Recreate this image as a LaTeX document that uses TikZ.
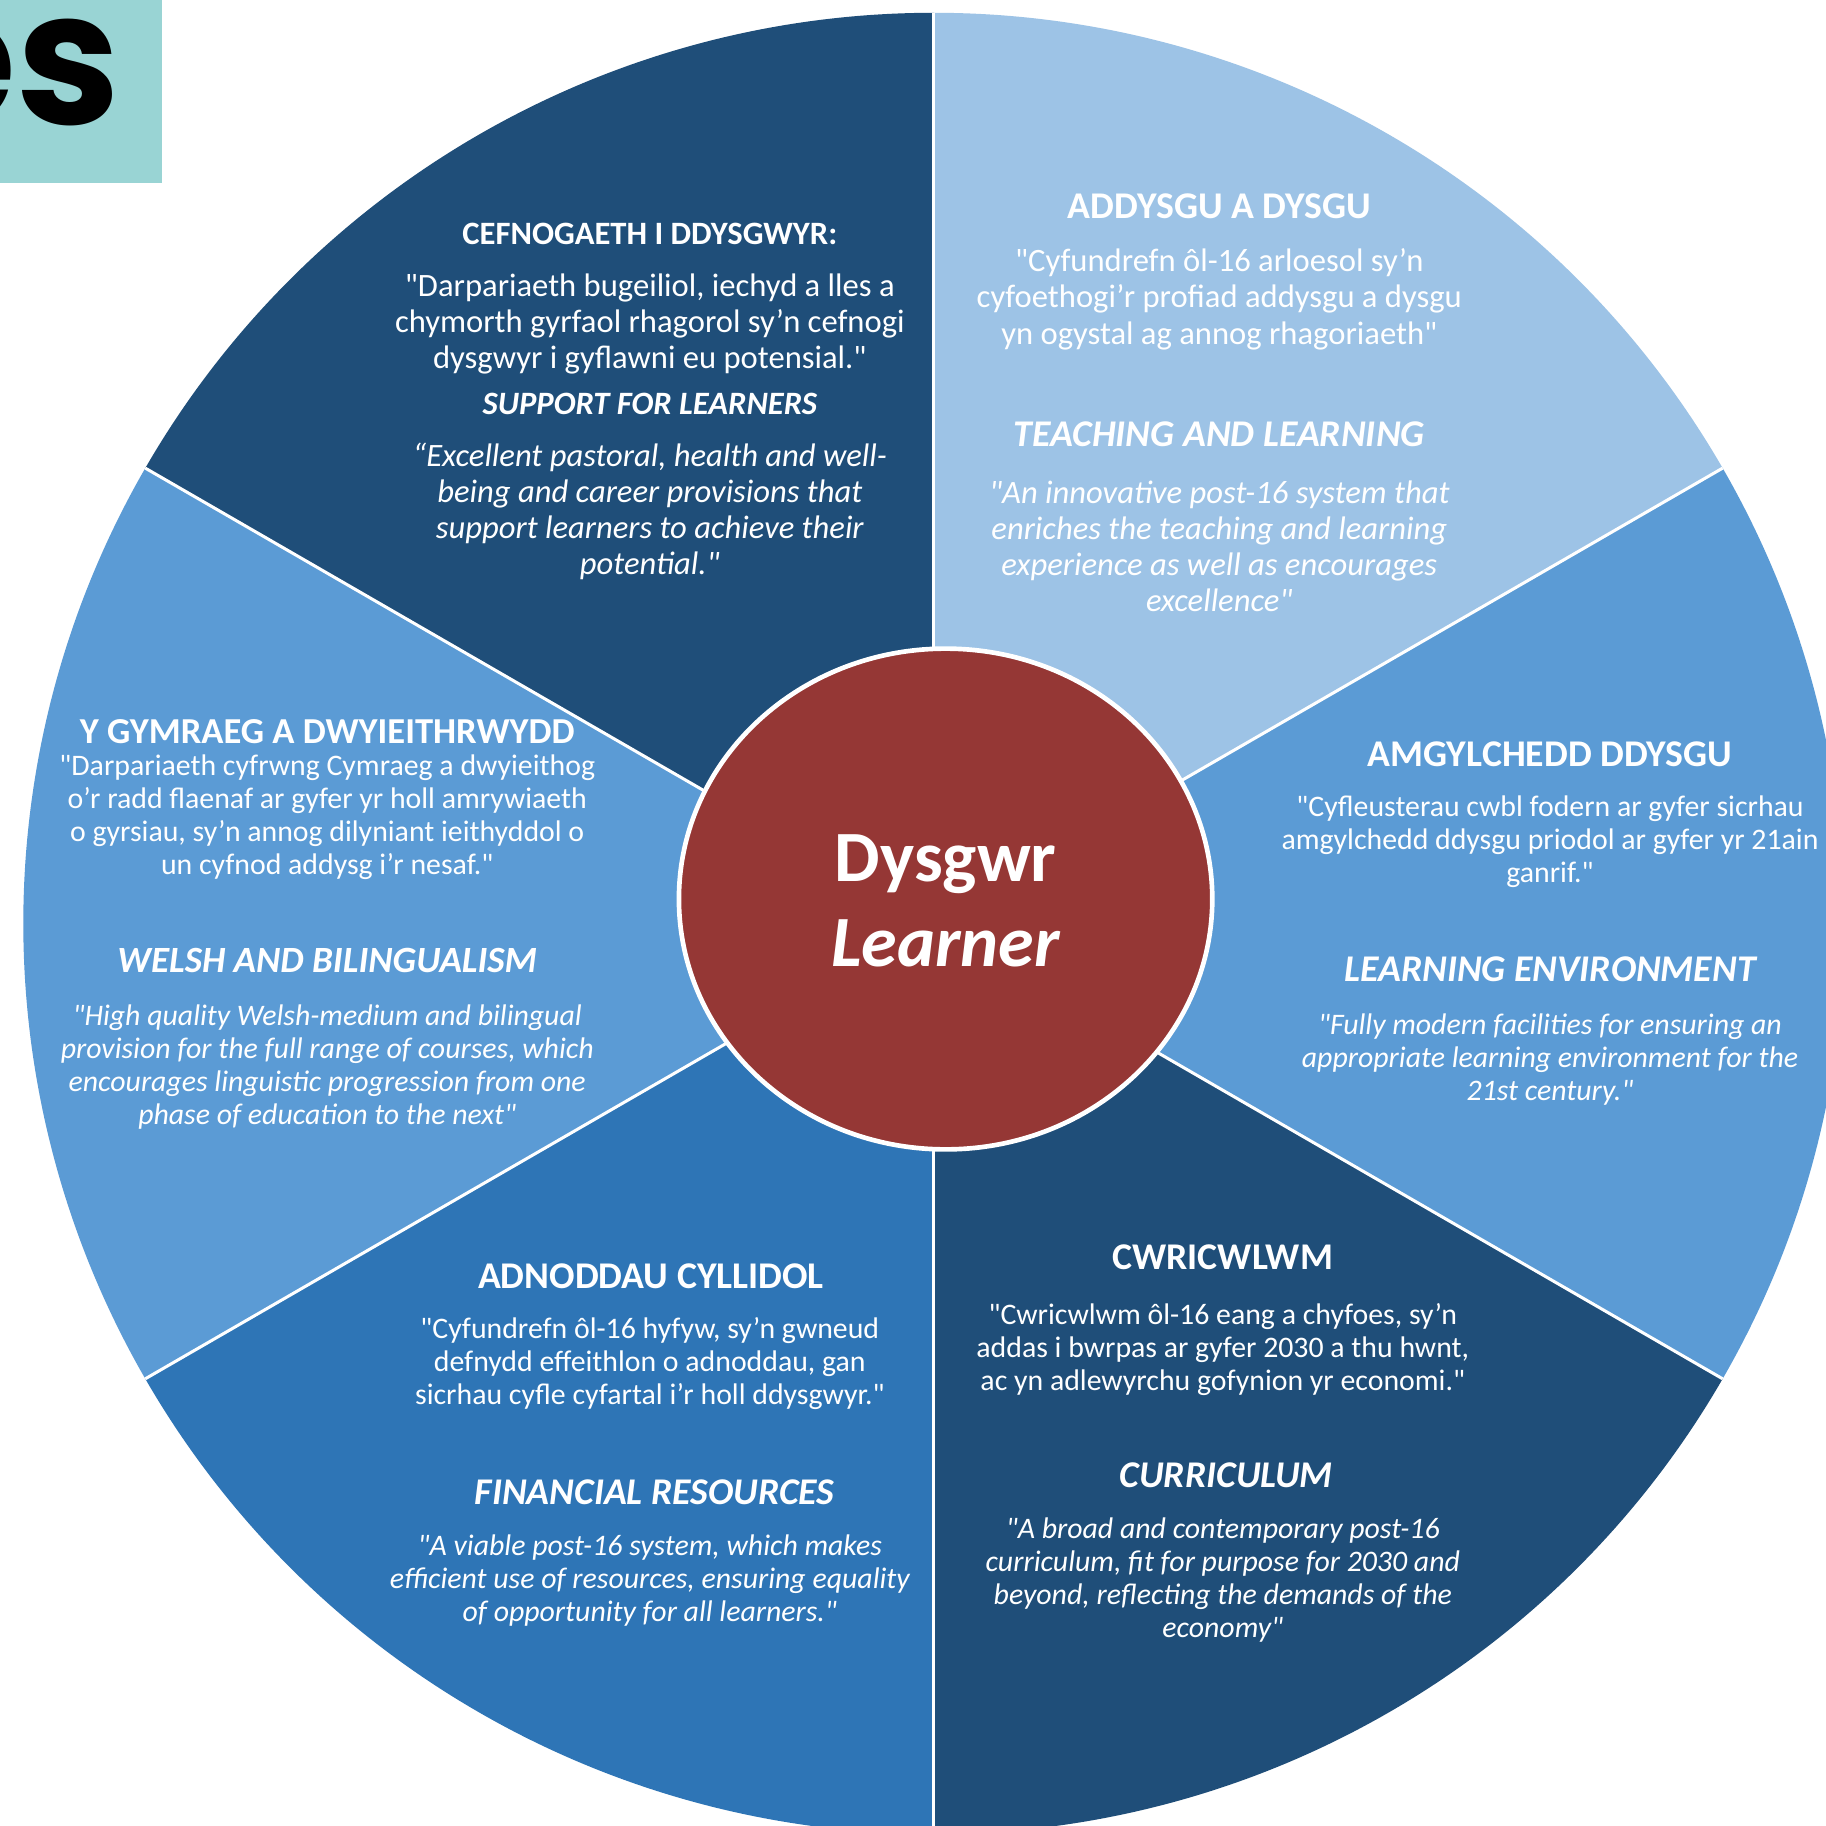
\documentclass[tikz,border=0pt]{standalone}
\usepackage{fontspec}
\setmainfont{Carlito}
\newfontfamily\calib{Carlito}
\newfontfamily\popfont{Poppins}
\usetikzlibrary{shapes.geometric}
\definecolor{navy}{HTML}{1F4E79}
\definecolor{lightb}{HTML}{9DC3E6}
\definecolor{midb}{HTML}{5B9BD5}
\definecolor{deepb}{HTML}{2E75B6}
\definecolor{redc}{HTML}{953735}
\definecolor{tealc}{HTML}{99D4D4}
\begin{document}
\begin{tikzpicture}[x=0.5pt,y=0.5pt,
  wh/.style={text=white, align=center, inner sep=0pt},
  hsm/.style={wh, font=\calib\bfseries\fontsize{14}{16}\selectfont},
  hsmi/.style={wh, font=\calib\bfseries\itshape\fontsize{14}{16}\selectfont},
  hbig/.style={wh, font=\calib\bfseries\fontsize{16.2}{18}\selectfont},
  hbigi/.style={wh, font=\calib\bfseries\itshape\fontsize{16.2}{18}\selectfont},
  qbig/.style={wh, font=\calib\fontsize{14}{15.5}\selectfont},
  qbigi/.style={wh, font=\calib\itshape\fontsize{14}{15.4}\selectfont},
  qsm/.style={wh, font=\calib\fontsize{12.8}{14.2}\selectfont},
  qsmi/.style={wh, font=\calib\itshape\fontsize{12.8}{14.2}\selectfont},
  divider/.style={white, line width=1.3pt}]
\useasboundingbox (0,0) rectangle (1568,1568);
\clip (0,0) rectangle (1568,1568);
\fill[white] (0,0) rectangle (1568,1568);
% teal tab
\fill[tealc] (0,1411) rectangle (139,1568);
\node[anchor=base east, inner sep=0pt, font=\popfont\bfseries\fontsize{80}{80}\selectfont, text=black] (tab) at (104,1461) {es};
% pie
\coordinate (O) at (802,775);
\fill[navy]  (O) -- ++(90:391pt)  arc[start angle=90,  end angle=150, radius=391pt] -- cycle;
\fill[lightb](O) -- ++(30:391pt)  arc[start angle=30,  end angle=90,  radius=391pt] -- cycle;
\fill[midb]  (O) -- ++(-30:391pt) arc[start angle=-30, end angle=30,  radius=391pt] -- cycle;
\fill[navy]  (O) -- ++(-90:391pt) arc[start angle=-90, end angle=-30, radius=391pt] -- cycle;
\fill[deepb] (O) -- ++(210:391pt) arc[start angle=210, end angle=270, radius=391pt] -- cycle;
\fill[midb]  (O) -- ++(150:391pt) arc[start angle=150, end angle=210, radius=391pt] -- cycle;
\path (O) ++(30:391pt) coordinate (r30);
\path (O) ++(90:391pt) coordinate (r90);
\path (O) ++(150:391pt) coordinate (r150);
\path (O) ++(210:391pt) coordinate (r210);
\path (O) ++(270:391pt) coordinate (r270);
\path (O) ++(330:391pt) coordinate (r330);
\foreach \r in {r30,r90,r150,r210,r270,r330} \draw[divider] (O) -- (\r);
% hub
\node[ellipse, fill=redc, draw=white, line width=2pt, minimum width=229pt, minimum height=215pt, inner sep=0pt] (hub) at (812,796) {};
\node[wh, font=\calib\bfseries\fontsize{31}{34}\selectfont] (dysgwr) at (812,826) {Dysgwr};
\node[wh, font=\calib\bfseries\itshape\fontsize{31}{34}\selectfont] (learner) at (812,758) {Learner};
% top-left
\node[hsm] (tlh1) at (558,1367) {CEFNOGAETH I DDYSGWYR:};
\node[qbig] (tlq1) at (558,1290) {"Darpariaeth bugeiliol, iechyd a lles a\\chymorth gyrfaol rhagorol sy’n cefnogi\\dysgwyr i gyflawni eu potensial."};
\node[hsmi] (tlh2) at (558,1221) {SUPPORT FOR LEARNERS};
\node[qbigi] (tlq2) at (558,1129) {“Excellent pastoral, health and well-\\being and career provisions that\\support learners to achieve their\\potential."};
% top-right
\node[hbig] (trh1) at (1047,1391) {ADDYSGU A DYSGU};
\node[qbig] (trq1) at (1047,1311) {"Cyfundrefn ôl-16 arloesol sy’n\\cyfoethogi’r profiad addysgu a dysgu\\yn ogystal ag annog rhagoriaeth"};
\node[hbigi] (trh2) at (1047,1195) {TEACHING AND LEARNING};
\node[qbigi] (trq2) at (1047,1099) {"An innovative post-16 system that\\enriches the teaching and learning\\experience as well as encourages\\excellence"};
% right
\node[hbig] (rh1) at (1331,920) {AMGYLCHEDD DDYSGU};
\node[qsm] (rq1) at (1331,845) {"Cyfleusterau cwbl fodern ar gyfer sicrhau\\amgylchedd ddysgu priodol ar gyfer yr 21ain\\ganrif."};
\node[hbigi] (rh2) at (1331,736) {LEARNING ENVIRONMENT};
\node[qsmi] (rq2) at (1331,658) {"Fully modern facilities for ensuring an\\appropriate learning environment for the\\21st century."};
% bottom-right
\node[hbig] (brh1) at (1050,488) {CWRICWLWM};
\node[qsm] (brq1) at (1050,409) {"Cwricwlwm ôl-16 eang a chyfoes, sy’n\\addas i bwrpas ar gyfer 2030 a thu hwnt,\\ac yn adlewyrchu gofynion yr economi."};
\node[hbigi] (brh2) at (1053,301) {CURRICULUM};
\node[qsmi] (brq2) at (1050,211) {"A broad and contemporary post-16\\curriculum, fit for purpose for 2030 and\\beyond, reflecting the demands of the\\economy"};
% bottom-left
\node[hbig] (blh1) at (559,472) {ADNODDAU CYLLIDOL};
\node[qsm] (blq1) at (558,397) {"Cyfundrefn ôl-16 hyfyw, sy’n gwneud\\defnydd effeithlon o adnoddau, gan\\sicrhau cyfle cyfartal i’r holl ddysgwyr."};
\node[hbigi] (blh2) at (562,287) {FINANCIAL RESOURCES};
\node[qsmi] (blq2) at (558,211) {"A viable post-16 system, which makes\\efficient use of resources, ensuring equality\\of opportunity for all learners."};
% left
\node[wh, font=\calib\bfseries\fontsize{15.7}{18}\selectfont] (lh1) at (281,940) {Y GYMRAEG A DWYIEITHRWYDD};
\node[qsm] (lq1) at (281,866) {"Darpariaeth cyfrwng Cymraeg a dwyieithog\\o’r radd flaenaf ar gyfer yr holl amrywiaeth\\o gyrsiau, sy’n annog dilyniant ieithyddol o\\un cyfnod addysg i’r nesaf."};
\node[wh, font=\calib\bfseries\itshape\fontsize{15.9}{18}\selectfont] (lh2) at (281,743) {WELSH AND BILINGUALISM};
\node[qsmi] (lq2) at (281,652) {"High quality Welsh-medium and bilingual\\provision for the full range of courses, which\\encourages linguistic progression from one\\phase of education to the next"};
\end{tikzpicture}
\end{document}
